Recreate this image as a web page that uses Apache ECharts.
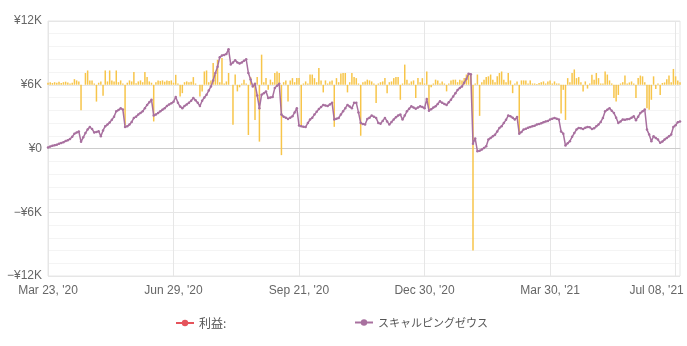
<!DOCTYPE html>
<html>
<head>
<meta charset="utf-8">
<script src="https://cdn.jsdelivr.net/npm/echarts@6/dist/echarts.min.js"></script>
<style>
html,body{margin:0;padding:0;background:#fff;}
#chart{width:687px;height:346px;}
</style>
</head>
<body>
<div id="chart"></div>
<script>
// x-axis tick labels (shown every 57 categories)
const tickLabels = ["Mar 23, '20", "Jun 29, '20", "Sep 21, '20", "Dec 30, '20", "Mar 30, '21", "Jul 08, '21"];
const tickEvery = 57;

// cumulative balance, thousands of yen (スキャルピングゼウス)
const cumulative = [
  0.10,0.18,0.25,0.30,0.36,0.45,0.52,0.60,0.70,0.78,
  0.90,1.10,1.40,1.50,1.60,0.63,1.05,1.45,1.80,2.03,
  1.84,1.50,1.55,1.62,1.15,1.70,2.10,2.25,2.45,2.70,
  3.00,3.50,3.62,3.78,3.66,2.03,2.10,2.25,2.50,2.88,
  3.00,3.20,3.35,3.50,3.80,4.10,4.35,4.60,3.10,3.20,
  3.35,3.50,3.65,3.80,4.00,4.15,4.25,4.40,4.85,4.30,
  3.95,3.80,4.00,4.15,4.30,4.50,4.75,4.55,4.30,4.00,
  4.50,4.80,5.06,5.45,5.84,6.40,7.10,7.70,8.60,8.75,
  8.80,8.90,9.35,7.90,8.10,8.30,8.10,8.00,8.10,8.25,
  8.40,7.10,6.50,5.84,6.10,5.00,3.80,5.06,5.20,5.37,
  4.75,4.80,4.85,5.70,5.90,6.10,3.19,3.00,2.90,2.78,
  2.90,3.03,3.40,3.80,2.16,2.10,2.05,2.03,2.40,2.72,
  2.90,3.19,3.45,3.72,3.90,4.10,4.05,4.00,4.15,4.30,
  2.72,2.80,2.88,3.20,3.50,3.80,4.10,3.95,3.80,4.30,
  4.30,3.40,2.40,2.30,2.25,2.78,2.90,3.10,3.00,2.88,
  2.40,2.34,2.60,2.88,2.55,2.25,2.50,2.72,2.95,3.10,
  3.19,2.72,3.10,3.50,3.75,3.97,3.85,3.75,3.85,3.97,
  3.90,3.80,4.66,3.56,3.70,3.85,3.97,4.20,4.44,4.30,
  4.20,4.10,4.35,4.60,4.90,5.20,5.50,5.70,5.84,6.20,
  6.53,7.03,7.00,0.44,0.94,-0.25,-0.20,-0.10,0.05,0.22,
  0.84,1.00,1.15,1.30,1.60,1.94,2.10,2.40,2.70,3.10,
  3.03,2.90,2.72,2.97,1.40,1.55,1.78,1.85,1.95,2.03,
  2.10,2.15,2.25,2.30,2.38,2.47,2.55,2.60,2.72,2.80,
  2.88,2.80,2.72,1.60,1.40,0.28,0.50,0.69,1.10,1.45,
  1.78,1.94,1.90,1.84,1.95,2.03,2.00,1.84,1.90,2.10,
  2.25,2.50,2.88,3.50,3.65,3.80,3.55,3.34,2.90,2.40,
  2.55,2.72,2.70,2.75,2.78,2.90,3.03,2.66,3.00,3.34,
  3.50,3.66,1.78,1.31,0.69,1.15,1.00,0.84,0.53,0.65,
  0.84,1.00,1.15,1.31,2.03,2.20,2.47,2.55
];

// daily profit, thousands of yen (利益)
const dailyProfit = [
  0.08,0.10,0.07,0.10,0.08,0.12,0.07,0.10,0.12,0.09,
  0.05,0.08,0.22,0.17,0.13,-1.00,0.00,0.46,0.56,0.17,
  0.17,0.05,-0.66,0.08,0.13,-0.43,0.56,0.13,0.56,0.17,
  0.13,0.56,0.10,0.17,0.05,-1.60,0.08,0.17,0.13,0.50,
  0.06,0.13,0.17,0.10,0.50,0.30,0.13,0.08,-1.44,0.10,
  0.17,0.15,0.17,0.12,0.17,0.15,0.17,0.08,0.39,0.05,
  -0.46,-0.33,0.10,0.13,0.10,0.12,0.30,0.05,0.00,-0.46,
  -0.26,0.52,0.56,0.10,0.17,0.85,0.40,0.98,0.10,1.05,
  0.05,0.13,0.46,0.00,-1.57,0.40,-0.26,-0.10,0.05,0.20,
  0.05,-1.97,0.30,0.05,-1.38,0.30,-2.23,1.18,0.10,0.26,
  -0.20,0.20,0.10,0.46,0.52,0.46,-2.76,0.10,0.17,-0.66,
  0.17,0.26,0.10,0.26,0.26,-1.64,0.05,0.13,0.05,0.40,
  0.40,0.26,0.10,0.66,0.17,-0.30,0.17,0.05,0.13,0.17,
  -1.65,0.26,0.10,0.44,0.46,0.46,-0.30,0.10,0.46,0.30,
  0.26,0.05,-2.00,0.10,0.13,0.20,0.17,0.13,0.05,-0.72,
  0.05,0.10,0.13,0.26,-0.33,0.10,0.13,0.26,0.30,0.30,
  -0.59,0.05,0.79,0.20,0.05,0.13,0.17,-0.52,0.26,0.10,
  0.26,0.05,0.52,-1.00,-0.10,0.05,0.20,0.17,0.05,0.13,
  0.05,-0.26,0.05,0.17,0.20,0.20,0.10,0.20,0.17,0.26,
  0.40,0.46,0.40,-6.50,0.05,0.40,-1.22,0.10,0.20,0.30,
  0.33,0.40,0.20,0.10,0.33,0.46,0.52,0.20,0.10,0.46,
  0.17,-0.33,0.05,0.13,-1.93,0.17,0.17,0.17,0.05,0.17,
  0.05,0.05,0.03,0.07,0.10,0.13,0.05,0.13,0.17,0.05,
  0.13,0.05,0.05,-1.13,-0.20,-1.38,0.26,0.10,0.46,0.60,
  0.26,0.30,0.10,-0.26,0.13,-0.15,0.05,0.39,0.20,0.46,
  0.26,0.05,0.05,0.52,0.40,0.17,0.05,-0.52,-0.66,-0.40,
  0.05,0.10,0.36,0.05,0.09,0.13,0.05,-0.52,0.26,0.36,
  0.33,0.10,-0.92,-0.98,-0.59,0.33,-0.17,0.05,-0.40,0.07,
  0.09,0.22,0.36,0.10,0.62,0.33,0.17,0.10
];

const seriesNames = ['利益:', 'スキャルピングゼウス'];

const categories = cumulative.map((_, i) => (i % tickEvery === 0 && tickLabels[i / tickEvery]) ? tickLabels[i / tickEvery] : '');

function yen(v) {
  if (v === 0) return '¥0';
  return (v < 0 ? '\u2212' : '') + '¥' + Math.abs(v) + 'K';
}

const chart = echarts.init(document.getElementById('chart'), null, {renderer: 'canvas'});
chart.setOption({
  animation: false,
  backgroundColor: '#fff',
  textStyle: {fontFamily: 'Liberation Sans, Arial, sans-serif'},
  grid: {left: 48, right: 7, top: 21, bottom: 70, show: true, borderColor: '#e6e6e6', borderWidth: 1},
  legend: [
    {data: [seriesNames[0]], left: 170, top: 312, itemWidth: 18, itemHeight: 8,
     textStyle: {color: '#555', fontSize: 12, fontFamily: 'Noto Sans CJK JP'}},
    {data: [seriesNames[1]], left: 349, top: 312, itemWidth: 18, itemHeight: 8,
     textStyle: {color: '#555', fontSize: 11, fontFamily: 'Noto Sans CJK JP'}}
  ],
  xAxis: {
    type: 'category',
    data: categories,
    boundaryGap: false,
    axisLine: {lineStyle: {color: '#cccccc'}},
    axisTick: {show: false},
    axisLabel: {
      interval: tickEvery - 1, color: '#666', fontSize: 12, margin: 9,
      formatter: (v) => v === tickLabels[tickLabels.length - 1] ? '{r|' + v + '}' : v,
      rich: {r: {padding: [0, 38, 0, 0], color: '#666', fontSize: 12}}
    },
    splitLine: {show: true, interval: tickEvery - 1, lineStyle: {color: '#e6e6e6'}}
  },
  yAxis: [
    {
      type: 'value', min: -12, max: 12, interval: 6,
      axisLine: {show: false}, axisTick: {show: false},
      axisLabel: {formatter: yen, color: '#666', fontSize: 12, margin: 6},
      splitLine: {lineStyle: {color: '#e6e6e6'}},
      minorTick: {show: false, splitNumber: 5},
      minorSplitLine: {show: true, lineStyle: {color: '#f4f4f4'}}
    },
    {
      type: 'value', min: -7.5, max: 2.5, show: false, splitLine: {show: false}
    }
  ],
  series: [
    {
      name: seriesNames[0], type: 'line', data: [], color: '#e5535b',
      symbol: 'circle', symbolSize: 4, lineStyle: {width: 1.5}
    },
    {
      name: 'daily', type: 'bar', yAxisIndex: 1, data: dailyProfit,
      barWidth: 1.5, itemStyle: {color: '#f7c54a'}, z: 1
    },
    {
      name: seriesNames[1], type: 'line', data: cumulative, color: '#a8709f',
      symbol: 'circle', symbolSize: 2.5, showSymbol: true, showAllSymbol: true,
      lineStyle: {width: 1.5, color: '#a8709f'}, itemStyle: {color: '#a8709f'}, z: 3
    }
  ]
});
</script>
</body>
</html>
